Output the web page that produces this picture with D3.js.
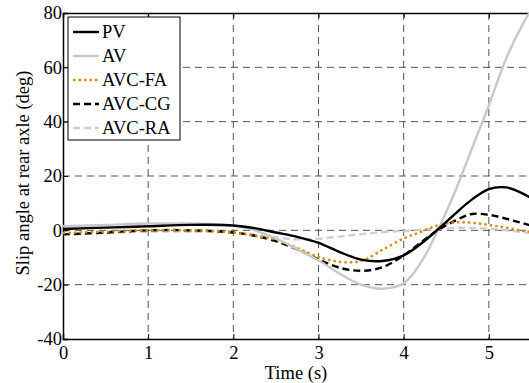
<!DOCTYPE html>
<html>
<head>
<meta charset="utf-8">
<script src="https://cdn.jsdelivr.net/npm/d3@7"></script>
<style>
  html, body { margin: 0; padding: 0; background: #fff; }
  svg { display: block; }
</style>
</head>
<body>
<div id="chart"></div>
<script>
// time samples (s)
const time = [0, 0.5, 1, 1.5, 2, 2.25, 2.5, 2.75, 3, 3.25, 3.5, 3.75, 4, 4.2, 4.4, 4.6, 4.8, 5, 5.2, 5.4, 5.6, 5.8, 6];

// slip angle at rear axle (deg)
const pv    = [0.5, 1, 1.5, 2, 1.8, 0.8, -0.8, -2.4, -4.6, -8, -10.8, -11.3, -9.2, -5, 0.3, 6, 11.3, 15.2, 15.8, 13.5, 10, 6, 3];
const av    = [1.5, 2, 2.5, 2.5, 1.8, 0, -3, -7, -11, -16, -20, -21.5, -19.5, -12, 0, 14, 30, 46, 63, 76, 86, 92, 95];
const avcFa = [-1, -0.5, 0, 0, -0.8, -2, -3.5, -6.5, -9.8, -11.6, -11.3, -7.2, -3, -0.6, 1.8, 2.9, 2.8, 2, 1, -0.2, -0.8, -1.1, -1.2];
const avcCg = [-1.5, -0.8, 0, 0, -0.8, -2, -4, -7, -10.7, -13.8, -14.9, -13.6, -9.2, -4.5, 0, 3.5, 6, 5.7, 4.3, 2.6, 1, 0, -0.5];
const avcRa = [-1.5, -1, -0.5, -0.5, -0.8, -1.6, -2.6, -3.3, -3.1, -2.3, -1.4, -0.7, -0.2, 0.2, 0.6, 0.9, 0.9, 0.6, 0, -0.7, -1.2, -1.5, -1.5];

const seriesNames = ['PV', 'AV', 'AVC-FA', 'AVC-CG', 'AVC-RA'];
const xTicks = [0, 1, 2, 3, 4, 5];
const yTicks = [-40, -20, 0, 20, 40, 60, 80];

const styles = {
  'PV':     { color: '#000000', dash: null },
  'AV':     { color: '#c8c8c8', dash: null },
  'AVC-FA': { color: '#e08a00', dash: '2.5,3' },
  'AVC-CG': { color: '#000000', dash: '7,4' },
  'AVC-RA': { color: '#cfcfcf', dash: '7,4' }
};

const series = [pv, av, avcFa, avcCg, avcRa].map((vals, i) => ({
  name: seriesNames[i],
  points: vals.map((v, j) => ({ t: time[j], v }))
}));

const width = 529;
const height = 383;
const margin = { t: 13, l: 63, b: 44 };
const plotRight = 574;
const serif = "'Liberation Serif', 'Times New Roman', Times, serif";
const fontSize = 18.5;

const svg = d3.select('#chart').append('svg')
  .attr('width', width)
  .attr('height', height)
  .attr('viewBox', [0, 0, width, height]);

const x = d3.scaleLinear().domain([0, 6]).range([margin.l, plotRight]);
const y = d3.scaleLinear().domain([-40, 80]).range([height - margin.b, margin.t]);

svg.append('defs').append('clipPath').attr('id', 'plot-clip')
  .append('rect')
  .attr('x', x(0)).attr('y', y(80))
  .attr('width', x(6) - x(0)).attr('height', y(-40) - y(80));

// grid
const grid = svg.append('g')
  .attr('stroke', '#555')
  .attr('stroke-width', 1)
  .attr('stroke-dasharray', '7,5');

grid.selectAll('.vg')
  .data(xTicks.filter(d => d > 0))
  .join('line')
  .attr('x1', d => x(d)).attr('x2', d => x(d))
  .attr('y1', y(80)).attr('y2', y(-40));

grid.selectAll('.hg')
  .data(yTicks.filter(d => d > -40 && d < 80))
  .join('line')
  .attr('x1', x(0)).attr('x2', x(6))
  .attr('y1', d => y(d)).attr('y2', d => y(d));

// axes
const axisBottom = d3.axisBottom(x).tickValues(xTicks).tickSize(-5).tickPadding(7).tickFormat(d => String(d));
const axisLeft = d3.axisLeft(y).tickValues(yTicks).tickSize(-5).tickPadding(1).tickFormat(d => String(d));

svg.append('g')
  .attr('transform', `translate(0,${y(-40)})`)
  .call(axisBottom)
  .attr('font-family', serif)
  .attr('font-size', fontSize)
  .call(g => g.select('.domain').attr('stroke-width', 1.5))
  .call(g => g.selectAll('text').attr('fill', '#000'));

svg.append('g')
  .attr('transform', `translate(${x(0)},0)`)
  .call(axisLeft)
  .attr('font-family', serif)
  .attr('font-size', fontSize)
  .call(g => g.select('.domain').attr('stroke-width', 1.5))
  .call(g => g.selectAll('text').attr('fill', '#000'));

// top border with ticks
svg.append('g')
  .attr('transform', `translate(0,${y(80)})`)
  .call(d3.axisTop(x).tickValues(xTicks).tickSize(-5).tickFormat(''))
  .call(g => g.select('.domain').attr('stroke-width', 1.5));

// lines
const line = d3.line()
  .x(d => x(d.t))
  .y(d => y(d.v))
  .curve(d3.curveCatmullRom.alpha(0.5));

svg.append('g')
  .attr('clip-path', 'url(#plot-clip)')
  .selectAll('path')
  .data(series.slice().reverse())
  .join('path')
  .attr('fill', 'none')
  .attr('stroke', d => styles[d.name].color)
  .attr('stroke-width', 2.4)
  .attr('stroke-dasharray', d => styles[d.name].dash)
  .attr('d', d => line(d.points));

// axis titles
svg.append('text')
  .attr('x', 296)
  .attr('y', 379)
  .attr('text-anchor', 'middle')
  .attr('font-family', serif)
  .attr('font-size', fontSize)
  .text('Time (s)');

svg.append('text')
  .attr('transform', `translate(29,173) rotate(-90)`)
  .attr('text-anchor', 'middle')
  .attr('font-family', serif)
  .attr('font-size', fontSize)
  .text('Slip angle at rear axle (deg)');

// legend
const legend = svg.append('g').attr('transform', 'translate(68,17)');
legend.append('rect')
  .attr('width', 112).attr('height', 123)
  .attr('fill', '#fff').attr('stroke', '#000').attr('stroke-width', 1);

const entry = legend.selectAll('.entry')
  .data(seriesNames)
  .join('g')
  .attr('transform', (_, i) => `translate(0,${15 + i * 24})`);

entry.append('line')
  .attr('x1', 5).attr('x2', 31)
  .attr('stroke', d => styles[d].color)
  .attr('stroke-width', 2.4)
  .attr('stroke-dasharray', d => styles[d].dash);

entry.append('text')
  .attr('x', 34)
  .attr('y', 6)
  .attr('font-family', serif)
  .attr('font-size', fontSize)
  .text(d => d);
</script>
</body>
</html>
